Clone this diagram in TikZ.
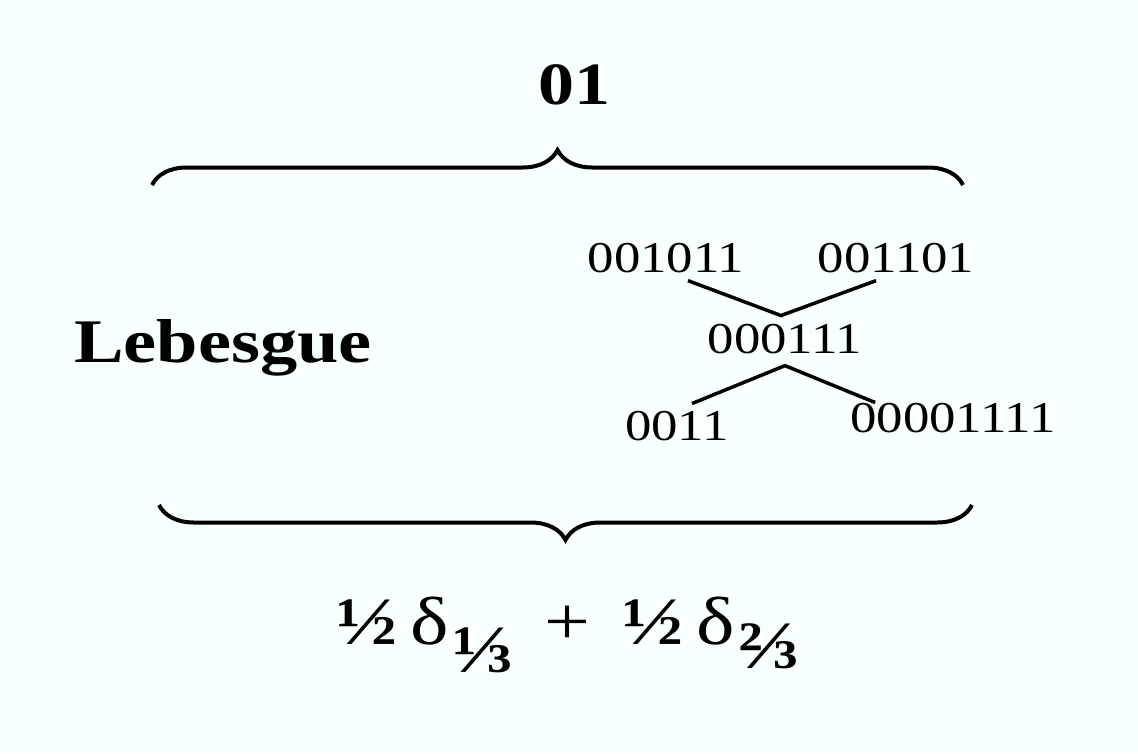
\documentclass[tikz,border=0pt]{standalone}
\usepackage{fontspec}
\setmainfont{Liberation Serif}[FakeStretch=1.2]
\usetikzlibrary{decorations.pathreplacing}
\definecolor{paper}{RGB}{247,255,255}
\newcommand\vfr[1]{{\fontsize{68}{68}\selectfont\bfseries#1}}
\newcommand\vsym[1]{{\fontsize{68}{68}\selectfont\mdseries#1}}
\tikzset{
  bin/.style={font=\fontsize{44}{44}\selectfont, inner sep=0pt},
  big/.style={font=\fontsize{60}{60}\selectfont\bfseries, inner sep=0pt},
  cbrace/.style={decorate, decoration={brace, amplitude=35pt}, line width=4pt},
  link/.style={line width=3.5pt},
}

\begin{document}
\begin{tikzpicture}[x=1pt,y=-1pt]
\fill[paper] (0,0) rectangle (1138,753);
\useasboundingbox (0,0) rectangle (1138,753);

% labels
\node[big, anchor=base] (word) at (574,104) {01};
\node[big, font=\fontsize{62}{62}\selectfont\bfseries, anchor=base west] (leb) at (74,362) {Lebesgue};
\node[big, anchor=base west] (meas) at (336,644)
  {\vfr{½}\hspace{13pt}\vsym{δ}\hspace{4pt}\raisebox{-28pt}{\vfr{⅓}}\hspace{30pt}\vsym{+}\hspace{32pt}%
   \vfr{½}\hspace{13pt}\vsym{δ}\hspace{4pt}\raisebox{-24pt}{\vfr{⅔}}};

% braces
\draw[cbrace] (152,185) -- (963,185);
\draw[cbrace] (972,505) -- (159,505);

% the swaps
\node[bin, anchor=base] (la) at (666,272) {001011};
\node[bin, anchor=base] (ra) at (896,272) {001101};
\node[bin, anchor=base] (mid) at (785,353) {000111};
\node[bin, anchor=base] (lb) at (677,440) {0011};
\node[bin, anchor=base] (rb) at (953,432) {00001111};

\coordinate (up) at ([xshift=-4pt,yshift=8pt]mid.north);
\coordinate (dn) at ([yshift=-12pt]mid.south);

\draw[link] ([xshift=22pt,yshift=-8pt]la.south) -- (up) -- ([xshift=-20pt,yshift=-8pt]ra.south);
\draw[link] ([xshift=15pt,yshift=7pt]lb.north) -- (dn) -- ([xshift=25pt]rb.north west);
\end{tikzpicture}
\end{document}
